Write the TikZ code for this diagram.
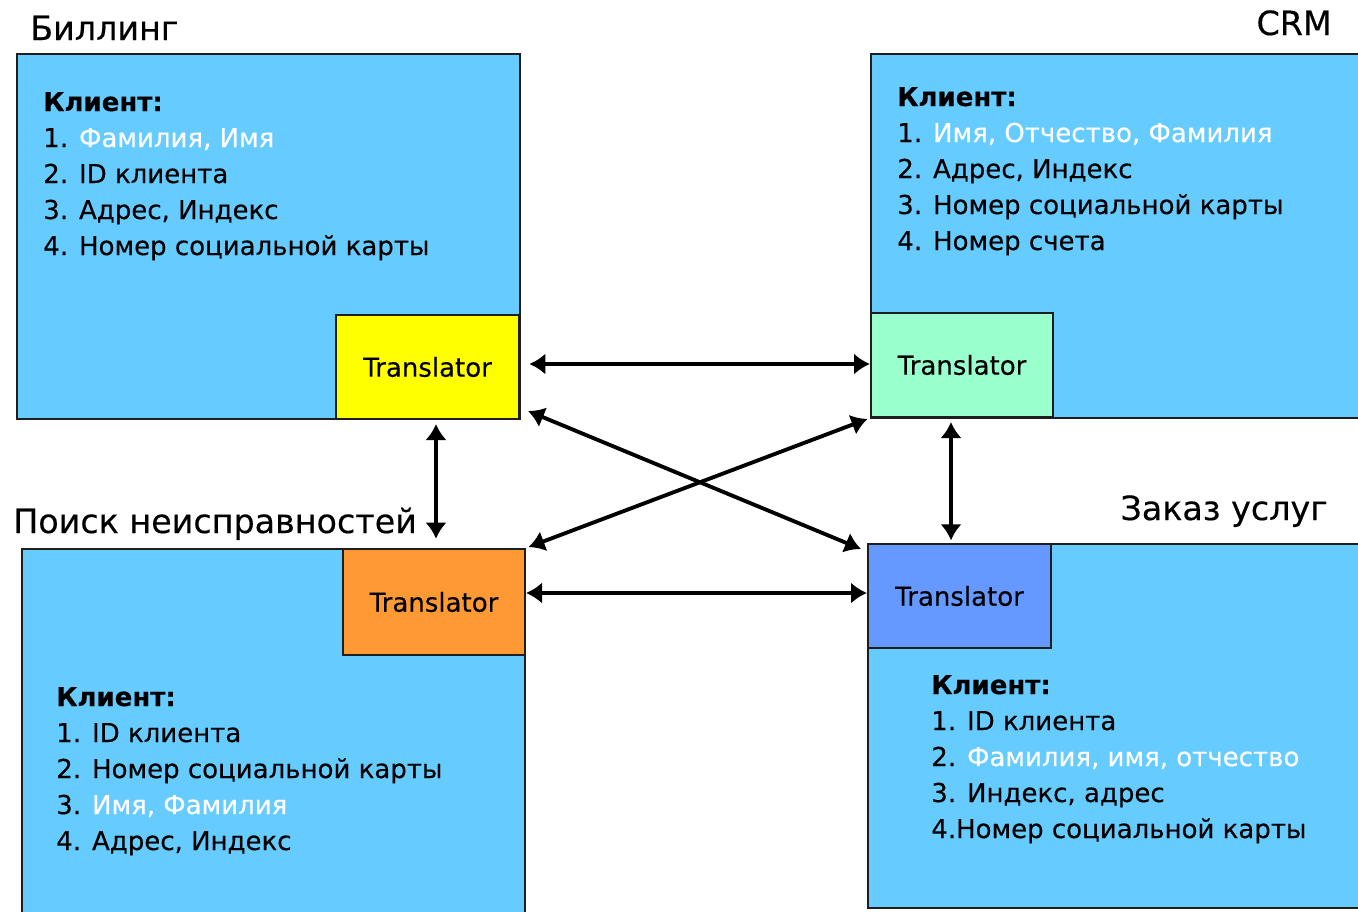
\documentclass[tikz,border=0pt]{standalone}
\usepackage{fontspec}
\setmainfont{DejaVu Sans}[FakeBold=0.35]
\usetikzlibrary{arrows.meta,fit,calc}
\definecolor{sysblue}{HTML}{66CCFF}
\definecolor{trY}{HTML}{FFFF00}
\definecolor{trG}{HTML}{99FFCC}
\definecolor{trO}{HTML}{FF9933}
\definecolor{trB}{HTML}{6699FF}
\definecolor{edgegray}{HTML}{1E1E1E}
\begin{document}
\begin{tikzpicture}[x=0.75pt,y=-0.75pt,
  sysbox/.style={draw=edgegray, line width=1.5pt, fill=sysblue, inner sep=0pt},
  trbox/.style={draw=edgegray, line width=1.5pt, inner sep=0pt},
  trtext/.style={font=\fontsize{19.5}{24}\selectfont, inner sep=0pt},
  title/.style={font=\fontsize{25}{30}\selectfont, inner sep=0pt},
  % anchored on the baseline of the last line
  fields/.style={font=\fontsize{19.5}{27}\selectfont, align=left, inner sep=0pt, anchor=base west},
  link/.style={line width=2.9pt, {Latex[length=12pt,width=16pt]}-{Latex[length=12pt,width=16pt]}}]
\useasboundingbox (0,0) rectangle (1358,911);
\clip (0,0) rectangle (1358,911);
\fill[white] (0,0) rectangle (1358,911);

% systems
\node[sysbox, fit={(17,54) (520,419)}] (bill) {};
\node[sysbox, fit={(871,54) (1366,418)}] (crm) {};
\node[sysbox, fit={(22,549) (525,918)}] (fault) {};
\node[sysbox, fit={(868,544) (1366,908)}] (order) {};

% translators
\node[trbox, fill=trY, fit={(336,315) (519,419)}, label={[trtext]center:Translator}] (tY) {};
\node[trbox, fill=trG, fit={(871,313) (1053,417)}, label={[trtext]center:Translator}] (tG) {};
\node[trbox, fill=trO, fit={(343,549) (525,655)}, label={[trtext]center:Translator}] (tO) {};
\node[trbox, fill=trB, fit={(868,544) (1051,648)}, label={[trtext]center:Translator}] (tB) {};

% titles
\node[title, anchor=base west] (nBill) at (30,40) {Биллинг};
\node[title, anchor=base east] (nCrm) at (1332,35) {CRM};
\node[title, anchor=base west] (nFault) at (13,533) {Поиск неисправностей};
\node[title, anchor=base east] (nOrder) at (1328,520) {Заказ услуг};

% client fields
\node[fields] (fBill) at (43,255) {\textbf{Клиент:}\\1. \textcolor{white}{Фамилия, Имя}\\2. ID клиента\\3. Адрес, Индекс\\4. Номер социальной карты};
\node[fields] (fCrm) at (897,250) {\textbf{Клиент:}\\1. \textcolor{white}{Имя, Отчество, Фамилия}\\2. Адрес, Индекс\\3. Номер социальной карты\\4. Номер счета};
\node[fields] (fFault) at (56,850) {\textbf{Клиент:}\\1. ID клиента\\2. Номер социальной карты\\3. \textcolor{white}{Имя, Фамилия}\\4. Адрес, Индекс};
\node[fields] (fOrder) at (931,838) {\textbf{Клиент:}\\1. ID клиента\\2. \textcolor{white}{Фамилия, имя, отчество}\\3. Индекс, адрес\\4.Номер социальной карты};

% connectors
\coordinate (vL) at (436,0);
\coordinate (vR) at (951,0);
\coordinate (hT) at (0,364);
\coordinate (hB) at (0,593);
\draw[link, shorten <=7pt] (tY.east |- hT) -- (tG.west |- hT);
\draw[link] (tO.east |- hB) -- (tB.west |- hB);
\draw[link, shorten <=3pt, shorten >=7pt] (tY.south -| vL) -- (tO.north -| vL);
\draw[link, shorten <=3pt, shorten >=2pt] (tG.south -| vR) -- (tB.north -| vR);
\draw[link] ($(tY.south east)+(8,-9)$) -- ($(tB.north west)+(-6,6)$);
\draw[link, shorten <=2pt, shorten >=2pt] (tG.south west) -- (tO.north east);
\end{tikzpicture}
\end{document}
